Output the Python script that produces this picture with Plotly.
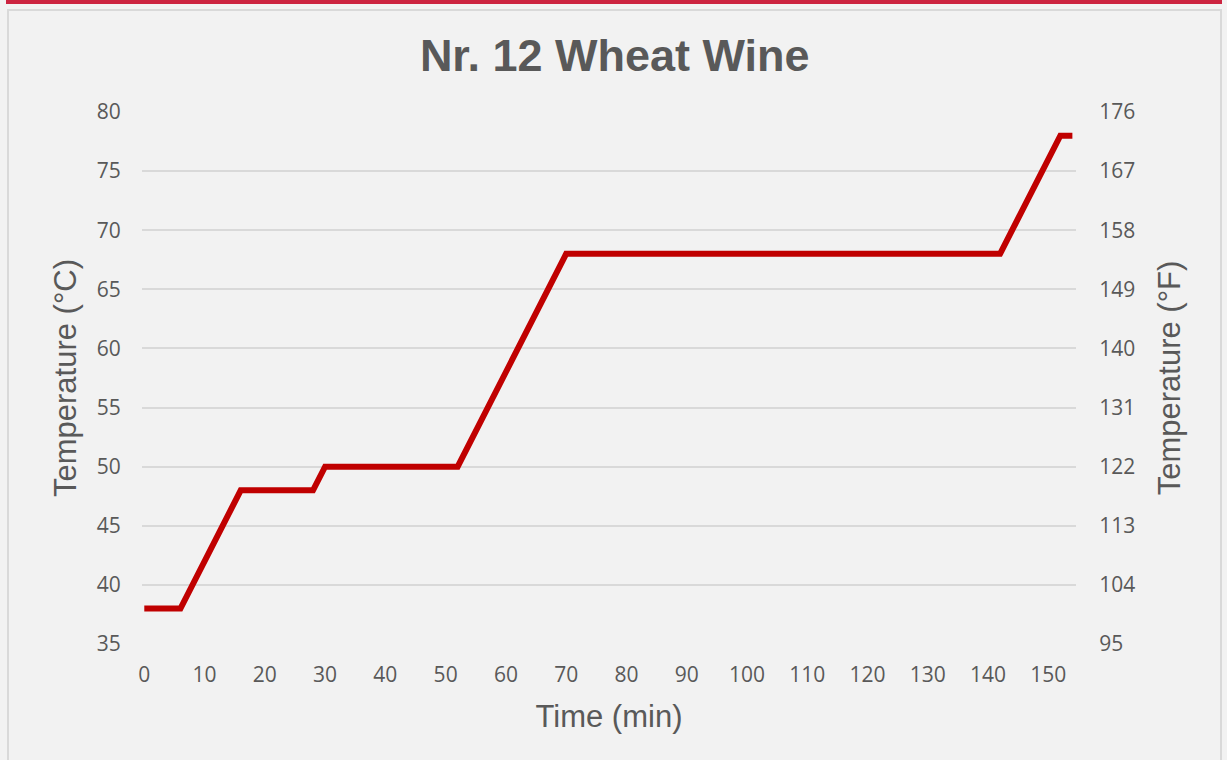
import plotly.graph_objects as go

# Data
time_min = [0, 6, 16, 28, 30, 52, 70, 142, 152, 154]
temp_c = [38, 38, 48, 48, 50, 50, 68, 68, 78, 78]
temp_f = [c * 1.8 + 32 for c in temp_c]

x_ticks = list(range(0, 151, 10))
c_ticks = [35, 40, 45, 50, 55, 60, 65, 70, 75, 80]
f_ticks = [95, 104, 113, 122, 131, 140, 149, 158, 167, 176]

title_text = "Nr. 12 Wheat Wine"
x_title = "Time (min)"
yl_title = "Temperature (°C)"
yr_title = "Temperature (°F)"

W, H = 1227, 760
L, R, T, B = 142, 151, 112, 116
pw, ph = W - L - R, H - T - B

def px(x):
    return (x - L) / pw

def py(y):
    return (H - B - y) / ph

fig = go.Figure()
fig.add_trace(go.Scatter(x=time_min, y=temp_c, mode="lines",
                         line=dict(color="#c00000", width=6),
                         showlegend=False, hoverinfo="x+y"))
fig.add_trace(go.Scatter(x=time_min, y=temp_f, mode="lines", yaxis="y2",
                         line=dict(color="rgba(0,0,0,0)", width=0),
                         showlegend=False, hoverinfo="skip"))

tick_font = dict(family="Open Sans", size=21, color="#595959")
title_font = dict(family="Liberation Sans, Arial", size=31, color="#595959")

fig.update_layout(
    width=W, height=H,
    margin=dict(l=L, r=R, t=T, b=B, autoexpand=False),
    paper_bgcolor="#f2f2f2",
    plot_bgcolor="#f2f2f2",
    title=dict(text="<b>" + title_text + "</b>", x=0.501, xanchor="center",
               y=1 - 55 / H, yanchor="middle", yref="container",
               font=dict(family="Liberation Sans, Arial", size=45, color="#595959")),
    xaxis=dict(range=[-0.38, 154.6], tickvals=x_ticks, showgrid=False,
               zeroline=False, showline=False, ticks="outside", ticklen=12,
               tickcolor="rgba(0,0,0,0)", tickfont=tick_font,
               title=dict(text=x_title, font=title_font, standoff=18),
               automargin=False),
    yaxis=dict(range=[35, 80], tickvals=c_ticks, showgrid=True,
               gridcolor="#d9d9d9", gridwidth=1.5, zeroline=False,
               showline=False, ticks="outside", ticklen=16,
               tickcolor="rgba(0,0,0,0)", tickfont=tick_font,
               title=dict(text=yl_title, font=title_font, standoff=10),
               automargin=False),
    yaxis2=dict(range=[95, 176], tickvals=f_ticks, overlaying="y", side="right",
                showgrid=False, zeroline=False, showline=False, ticks="outside",
                ticklen=18, tickcolor="rgba(0,0,0,0)", tickfont=tick_font,
                title=dict(text=yr_title, font=title_font, standoff=24),
                automargin=False),
    shapes=[
        dict(type="rect", xref="paper", yref="paper",
             x0=px(8), x1=px(1221), y0=py(10), y1=py(790),
             line=dict(color="#d9d9d9", width=2), fillcolor="rgba(0,0,0,0)",
             layer="below"),
        dict(type="rect", xref="paper", yref="paper",
             x0=px(6), x1=px(1222), y0=py(0), y1=py(4),
             line=dict(width=0), fillcolor="#cc2440", layer="above"),
    ],
)

fig.write_html("out.html", config={"displayModeBar": False},
               post_script="document.body.style.margin='0';")
